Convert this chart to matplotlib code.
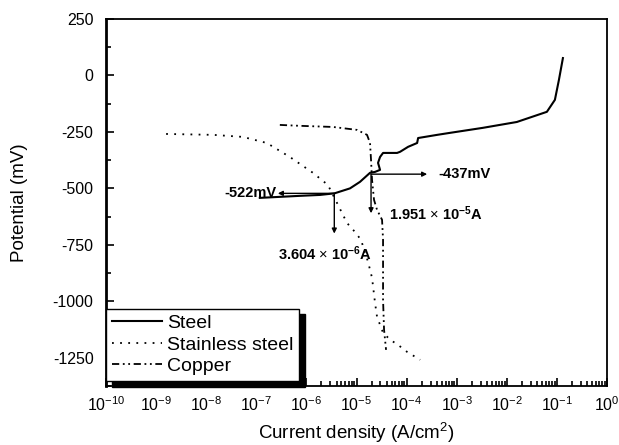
import numpy as np
import matplotlib
matplotlib.use('Agg')
import matplotlib.pyplot as plt
from matplotlib.ticker import LogLocator, FixedLocator, NullFormatter

plt.rcParams['font.family'] = ['Liberation Sans', 'DejaVu Sans']
plt.rcParams['mathtext.fontset'] = 'custom'
plt.rcParams['mathtext.rm'] = 'Liberation Sans'
plt.rcParams['mathtext.it'] = 'Liberation Sans:italic'
plt.rcParams['mathtext.bf'] = 'Liberation Sans:bold'
plt.rcParams['axes.unicode_minus'] = False

# log10(current density) and potential (mV)
steel_logi = [-6.93, -6.13, -5.73, -5.44, -5.13, -4.93, -4.73, -4.63, -4.53, -4.57, -4.53, -4.47,
              -4.19, -4.13, -3.97, -3.79, -3.77, -3.39, -3.13, -2.48, -1.80, -1.20, -1.04, -0.96, -0.88]
steel_e = [-542, -533, -529, -522, -500, -471, -431, -427, -418, -387, -361, -343,
           -343, -338, -316, -299, -277, -263, -254, -232, -206, -161, -108, -20, 77]

ss_logi = [-8.80, -7.86, -7.27, -6.79, -6.33, -5.87, -5.57, -5.39, -5.19, -5.03, -4.91, -4.77,
           -4.69, -4.63, -4.59, -4.53, -4.47, -4.33, -4.17, -3.99, -3.73]
ss_e = [-259, -263, -272, -299, -361, -431, -485, -564, -653, -693, -728, -825,
        -896, -1007, -1069, -1104, -1139, -1170, -1193, -1224, -1259]

cu_logi = [-6.53, -6.13, -5.47, -4.99, -4.79, -4.73, -4.71, -4.69, -4.65, -4.59, -4.49, -4.47,
           -4.47, -4.45, -4.41]
cu_e = [-219, -223, -228, -241, -263, -299, -374, -462, -551, -595, -639, -728,
        -993, -1126, -1215]

# corrosion points marked with arrows
ecorr = [-522, -437]
icorr = [3.604e-6, 1.951e-5]

fig = plt.figure(figsize=(6.19, 4.45), dpi=100)
ax = fig.add_axes([106/619, 59/445, 501/619, 367/445])

ax.plot(10**np.array(steel_logi), steel_e, 'k-', lw=1.5, label='Steel')
ax.plot(10**np.array(ss_logi), ss_e, color='k', lw=1.3, ls=(0, (1, 3.5)), label='Stainless steel')
ax.plot(10**np.array(cu_logi), cu_e, color='k', lw=1.3, ls=(0, (4, 2, 1, 2, 1, 2)), label='Copper')

ax.set_xscale('log')
ax.set_xlim(1e-10, 1)
ax.set_ylim(-1375, 250)
ax.xaxis.set_major_locator(LogLocator(base=10, numticks=20))
ax.xaxis.set_minor_locator(LogLocator(base=10, subs=np.arange(2, 10), numticks=20))
ax.xaxis.set_minor_formatter(NullFormatter())
ax.yaxis.set_major_locator(FixedLocator([-1250, -1000, -750, -500, -250, 0, 250]))
ax.yaxis.set_minor_locator(FixedLocator([-1375, -1125, -875, -625, -375, -125, 125]))
ax.tick_params(which='both', direction='in', top=False, right=False, labelsize=11.5, width=1.2)
ax.tick_params(which='major', length=6)
ax.tick_params(which='minor', length=3.5)
ax.tick_params(axis='y', pad=9)
ax.tick_params(axis='x', pad=7)
for s in ax.spines.values():
    s.set_linewidth(1.3)
ax.spines['left'].set_linewidth(2)

ax.set_xlabel('Current density (A/cm$^2$)', fontsize=13.5, labelpad=5)
ax.set_ylabel('Potential (mV)', fontsize=13.5, labelpad=18)

# arrows and labels
akw = dict(arrowstyle='-|>', color='k', lw=1.0, mutation_scale=7, shrinkA=0, shrinkB=0)
ax.annotate('', xy=(10**-6.57, ecorr[0]), xytext=(icorr[0], ecorr[0]), arrowprops=akw)
ax.text(10**-6.6, ecorr[0], '-522mV', ha='right', va='center', fontsize=10.5, fontweight='bold')
ax.annotate('', xy=(icorr[0], -700), xytext=(icorr[0], ecorr[0]), arrowprops=akw)
ax.text(10**-6.57, -790, r'3.604 $\times$ 10$^{\mathbf{-6}}$A', ha='left', va='center', fontsize=10.5, fontweight='bold')

ax.annotate('', xy=(10**-3.59, ecorr[1]), xytext=(icorr[1], ecorr[1]), arrowprops=akw)
ax.text(10**-3.37, ecorr[1], '-437mV', ha='left', va='center', fontsize=10.5, fontweight='bold')
ax.annotate('', xy=(icorr[1], -610), xytext=(icorr[1], ecorr[1]), arrowprops=akw)
ax.text(10**-4.36, -610, r'1.951 $\times$ 10$^{\mathbf{-5}}$A', ha='left', va='center', fontsize=10.5, fontweight='bold')

leg = ax.legend(loc='lower left', bbox_to_anchor=(0, 5/367), borderaxespad=0, fontsize=14,
                frameon=True, fancybox=False, edgecolor='k', handlelength=2.6, handletextpad=0.25,
                borderpad=0.3, labelspacing=0.2,
                shadow={'ox': 4, 'oy': -4, 'color': 'k', 'alpha': 1})
leg.get_frame().set_linewidth(1.0)

fig.savefig('out.png', dpi=100)
